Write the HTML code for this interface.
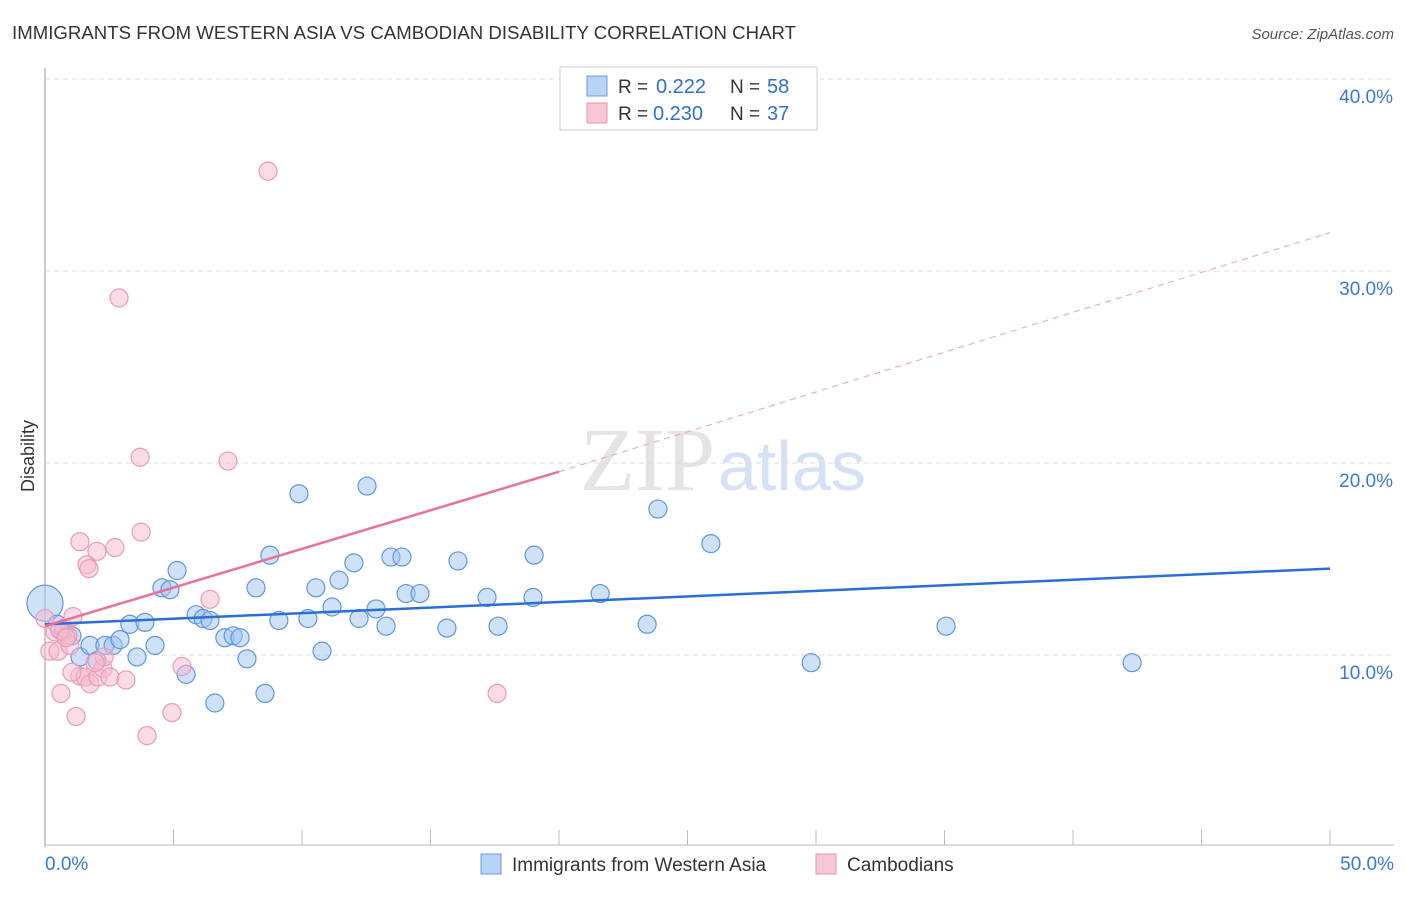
<!DOCTYPE html>
<html><head><meta charset="utf-8"><style>
body{margin:0;background:#fff;font-family:"Liberation Sans",sans-serif;}
</style></head><body>
<svg id="c" width="1406" height="892" xmlns="http://www.w3.org/2000/svg">
<text x="12" y="39" font-size="18.6" fill="#333" textLength="784">IMMIGRANTS FROM WESTERN ASIA VS CAMBODIAN DISABILITY CORRELATION CHART</text>
<text x="1394" y="39" font-size="15" fill="#555" font-style="italic" text-anchor="end">Source: ZipAtlas.com</text>
<text x="715" y="490" font-size="90" fill="#e4e4e4" text-anchor="end" font-family="Liberation Serif">ZIP</text>
<text x="718" y="490" font-size="70" fill="#d5e2f5">atlas</text>
<text transform="translate(34,456) rotate(-90)" font-size="18" fill="#333" text-anchor="middle">Disability</text>
<g id="grid"></g><g id="pts"></g><g id="lines"></g>
<g>
<rect x="560" y="67" width="257" height="63" fill="#fff" stroke="#ccc"/>
<rect x="587" y="76" width="20" height="20" fill="#b8d3f5" stroke="#6a9ee0"/>
<rect x="587" y="103" width="20" height="20" fill="#f9c6d5" stroke="#e896b0"/>
<text x="618" y="93" font-size="19" fill="#333">R =</text>
<text x="656" y="93" font-size="20" fill="#2f6fd0">0.222</text>
<text x="730" y="93" font-size="19" fill="#333">N =</text>
<text x="767" y="93" font-size="20" fill="#2f6fd0">58</text>
<text x="618" y="120" font-size="19" fill="#333">R =</text>
<text x="653" y="120" font-size="20" fill="#2f6fd0">0.230</text>
<text x="730" y="120" font-size="19" fill="#333">N =</text>
<text x="767" y="120" font-size="20" fill="#2f6fd0">37</text>
</g>
<g>
<rect x="481" y="854" width="20" height="20" fill="#b8d3f5" stroke="#6a9ee0"/>
<text x="512" y="871" font-size="19" fill="#333">Immigrants from Western Asia</text>
<rect x="816" y="854" width="20" height="20" fill="#f9c6d5" stroke="#e896b0"/>
<text x="847" y="871" font-size="19" fill="#333">Cambodians</text>
</g>
</svg>
<script>
const yTicks=[10,20,30,40];
const xTickLabels=["0.0%","50.0%"];
const blueX=[0,0.47,0.7,1.05,1.36,1.75,2.02,2.33,2.65,2.92,3.3,3.58,3.89,4.28,4.55,4.86,5.14,5.49,5.88,6.15,6.42,6.61,7.0,7.32,7.59,7.86,8.21,8.56,8.75,9.1,9.88,10.23,10.54,10.78,11.17,11.44,12.02,12.22,12.53,12.88,13.27,13.46,13.89,14.05,14.59,15.64,16.07,17.2,17.63,18.99,19.03,21.6,23.43,23.85,25.91,29.81,35.06,42.3];
const blueY=[12.7,11.6,11.2,11.0,9.9,10.5,9.7,10.5,10.5,10.8,11.6,9.9,11.7,10.5,13.5,13.4,14.4,8.99,12.1,11.9,11.8,7.5,10.9,11.0,10.9,9.8,13.5,8.0,15.2,11.8,18.4,11.9,13.5,10.2,12.5,13.9,14.8,11.9,18.8,12.4,11.5,15.1,15.1,13.2,13.2,11.4,14.9,13.0,11.5,13.0,15.2,13.2,11.6,17.6,15.8,9.6,11.5,9.6];
const pinkX=[0,0.19,0.39,0.51,0.62,0.74,0.89,0.97,1.09,1.21,1.36,1.36,1.56,1.63,1.71,1.75,2.02,2.06,2.26,2.3,2.53,2.72,2.88,3.15,3.7,3.74,3.97,4.94,5.33,6.42,7.12,8.68,17.59,1.05,0.58,0.82,1.95];
const pinkY=[11.9,10.2,11.2,10.2,8.0,11.4,11.0,10.5,12.0,6.8,15.9,8.9,8.85,14.7,14.5,8.5,15.4,8.85,9.3,9.9,8.85,15.6,28.6,8.7,20.3,16.4,5.8,7.0,9.4,12.9,20.1,35.2,8.0,9.1,11.3,10.9,9.6];
const X=v=>45+v*25.7, Y=v=>847-v*19.2;
const NS="http://www.w3.org/2000/svg";
function mk(t,a,p){const e=document.createElementNS(NS,t);for(const k in a)e.setAttribute(k,a[k]);p.appendChild(e);return e;}
const g=document.getElementById('grid'),svg=document.getElementById('c');
let ax=mk('line',{x1:45,y1:68,x2:45,y2:847,stroke:'#bbb','stroke-width':1.5},g);

let bx=mk('line',{x1:45,y1:845,x2:1394,y2:845,stroke:'#bbb'},g);

for(let i=0;i<=10;i++){const t=mk('line',{x1:X(i*5),y1:830,x2:X(i*5),y2:845,stroke:'#bbb'},g);
}
yTicks.forEach(v=>{const l=mk('line',{x1:45,y1:Y(v),x2:1394,y2:Y(v),stroke:'#ddd','stroke-dasharray':'5,4'},g);

const t=mk('text',{x:1393,y:Y(v)+24,'font-size':19,fill:'#3a78d4','text-anchor':'end'},g);t.textContent=v.toFixed(1)+'%';
});
[[45,'start',0],[1394,'end',1]].forEach(([x,a,i])=>{const t=mk('text',{x:x,y:870,'font-size':19,fill:'#3a78d4','text-anchor':a},g);t.textContent=xTickLabels[i];
});
const p=document.getElementById('pts');
blueX.forEach((v,i)=>{const c=mk('circle',{cx:X(v),cy:Y(blueY[i]),r:i==0?18:9,fill:'rgba(160,196,240,0.5)',stroke:'#5f96e0','stroke-width':1.2},p);
});
pinkX.forEach((v,i)=>{const c=mk('circle',{cx:X(v),cy:Y(pinkY[i]),r:9,fill:'rgba(248,185,205,0.5)',stroke:'#eb9ab5','stroke-width':1.2},p);
});
const L=document.getElementById('lines');
let l1=mk('line',{x1:X(0),y1:Y(11.6),x2:X(50),y2:Y(14.5),stroke:'#2a6fd6','stroke-width':2.5},L);

let l2=mk('line',{x1:X(0),y1:Y(11.5),x2:X(20),y2:Y(19.55),stroke:'#e8709a','stroke-width':2.5},L);

let l3=mk('line',{x1:X(20),y1:Y(19.55),x2:X(50),y2:Y(32),stroke:'#e8a0b8','stroke-width':1,'stroke-dasharray':'6,5'},L);

</script>
</body></html>
